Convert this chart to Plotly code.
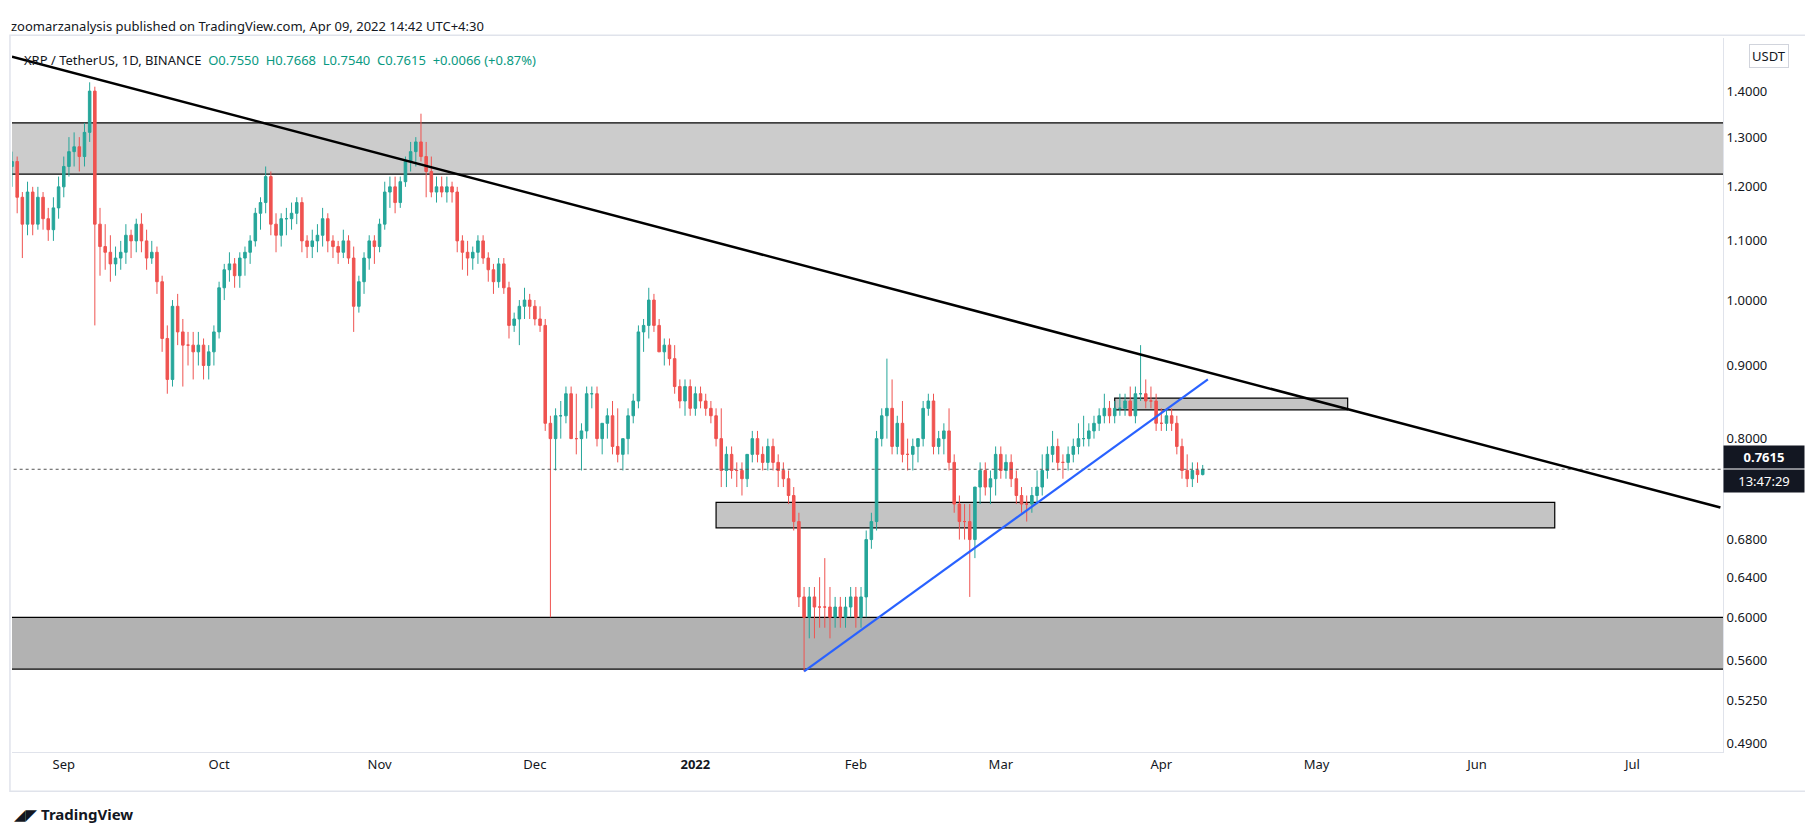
import plotly.graph_objects as go
import pandas as pd
import math

dates = pd.date_range("2021-08-22", "2022-04-09", freq="D")

closes = [
1.25,1.18,1.13,1.19,1.13,1.18,1.14,
1.12,1.16,1.20,1.24,1.27,1.28,1.26,
1.31,1.40,1.13,1.09,1.08,1.06,1.07,
1.08,1.11,1.10,1.13,1.10,1.07,1.08,
1.03,0.94,0.88,0.99,0.95,0.93,0.93,
0.92,0.93,0.90,0.92,0.95,1.02,1.05,
1.06,1.04,1.07,1.08,1.10,1.15,1.17,
1.22,1.13,1.11,1.14,1.14,1.15,1.17,
1.10,1.09,1.10,1.11,1.14,1.10,1.09,
1.08,1.10,1.07,0.99,1.03,1.07,1.10,
1.09,1.13,1.19,1.20,1.17,1.21,1.25,
1.27,1.29,1.26,1.23,1.19,1.20,1.19,
1.20,1.19,1.10,1.08,1.07,1.08,1.10,
1.07,1.05,1.03,1.06,1.02,0.96,0.97,
0.99,1.00,0.99,0.97,0.96,0.82,0.80,
0.83,0.83,0.86,0.80,0.80,0.81,0.86,
0.86,0.80,0.82,0.83,0.79,0.78,0.80,
0.83,0.85,0.95,0.96,1.00,0.96,0.92,
0.93,0.91,0.87,0.85,0.87,0.84,0.86,
0.85,0.84,0.83,0.80,0.76,0.78,0.76,
0.76,0.75,0.78,0.80,0.78,0.77,0.79,
0.77,0.76,0.75,0.73,0.70,0.62,0.60,
0.62,0.61,0.61,0.61,0.60,0.61,0.60,
0.61,0.62,0.60,0.62,0.68,0.70,0.80,
0.83,0.84,0.79,0.82,0.78,0.78,0.79,
0.80,0.84,0.85,0.79,0.80,0.81,0.77,
0.72,0.70,0.70,0.68,0.74,0.76,0.74,
0.75,0.78,0.76,0.77,0.75,0.73,0.72,
0.72,0.73,0.74,0.76,0.78,0.79,0.77,
0.77,0.78,0.79,0.80,0.80,0.81,0.82,
0.83,0.84,0.83,0.84,0.84,0.85,0.83,
0.86,0.86,0.85,0.85,0.82,0.82,0.83,
0.82,0.79,0.76,0.75,0.76,0.755,0.7615]

opens = [1.24] + closes[:-2] + [0.7550]

highs = [
1.27,1.26,1.19,1.21,1.20,1.20,1.19,
1.16,1.18,1.22,1.26,1.30,1.31,1.30,
1.33,1.42,1.41,1.16,1.13,1.11,1.09,
1.10,1.13,1.12,1.14,1.15,1.12,1.10,
1.09,1.04,0.96,1.00,1.01,0.97,0.95,
0.95,0.95,0.94,0.93,0.96,1.03,1.06,
1.08,1.07,1.08,1.09,1.11,1.16,1.18,
1.24,1.23,1.15,1.15,1.16,1.17,1.18,
1.18,1.11,1.12,1.13,1.16,1.15,1.11,
1.10,1.12,1.11,1.09,1.04,1.08,1.11,
1.11,1.14,1.21,1.22,1.22,1.22,1.26,
1.29,1.30,1.35,1.29,1.26,1.22,1.22,
1.22,1.21,1.20,1.11,1.10,1.09,1.11,
1.11,1.08,1.06,1.07,1.07,1.03,0.98,
1.00,1.02,1.01,1.00,0.99,0.97,0.83,
0.84,0.85,0.87,0.87,0.86,0.82,0.87,
0.87,0.87,0.82,0.84,0.85,0.84,0.80,
0.84,0.86,0.96,0.97,1.02,1.01,0.97,
0.94,0.94,0.93,0.88,0.88,0.88,0.87,
0.87,0.86,0.85,0.84,0.84,0.79,0.79,
0.77,0.77,0.78,0.81,0.81,0.79,0.80,
0.80,0.78,0.77,0.76,0.74,0.71,0.63,
0.63,0.63,0.64,0.66,0.63,0.62,0.62,
0.62,0.63,0.63,0.63,0.69,0.71,0.81,
0.84,0.91,0.88,0.83,0.85,0.80,0.80,
0.80,0.85,0.86,0.86,0.81,0.82,0.84,
0.78,0.73,0.72,0.72,0.74,0.77,0.77,
0.76,0.79,0.79,0.78,0.78,0.76,0.74,
0.73,0.74,0.76,0.78,0.79,0.81,0.80,
0.78,0.79,0.80,0.82,0.83,0.82,0.83,
0.84,0.86,0.85,0.85,0.86,0.86,0.87,
0.87,0.93,0.88,0.87,0.86,0.84,0.84,
0.84,0.83,0.80,0.78,0.77,0.77,0.7668]

lows = [
1.20,1.15,1.07,1.11,1.11,1.12,1.12,
1.10,1.10,1.14,1.18,1.22,1.24,1.23,
1.24,1.29,0.96,1.04,1.05,1.03,1.04,
1.05,1.06,1.07,1.08,1.08,1.05,1.06,
1.01,0.92,0.86,0.87,0.93,0.87,0.90,
0.88,0.90,0.88,0.88,0.90,0.94,1.00,
1.03,1.02,1.02,1.04,1.06,1.09,1.12,
1.15,1.11,1.08,1.09,1.11,1.12,1.13,
1.08,1.07,1.07,1.08,1.09,1.08,1.07,
1.06,1.07,1.06,0.95,0.98,1.01,1.05,
1.06,1.08,1.12,1.16,1.15,1.16,1.20,
1.23,1.24,1.25,1.18,1.18,1.17,1.18,
1.17,1.17,1.08,1.05,1.04,1.05,1.06,
1.06,1.03,1.01,1.02,1.01,0.94,0.95,
0.93,0.97,0.97,0.96,0.95,0.81,0.60,
0.76,0.80,0.82,0.80,0.78,0.76,0.80,
0.84,0.79,0.78,0.80,0.78,0.77,0.76,
0.78,0.82,0.84,0.92,0.94,0.95,0.92,
0.90,0.90,0.86,0.84,0.83,0.83,0.83,
0.84,0.83,0.82,0.79,0.74,0.74,0.75,
0.74,0.73,0.74,0.77,0.77,0.76,0.76,
0.76,0.74,0.74,0.72,0.69,0.61,0.55,
0.58,0.58,0.59,0.59,0.58,0.59,0.59,
0.59,0.60,0.59,0.59,0.60,0.67,0.69,
0.79,0.80,0.78,0.78,0.77,0.76,0.76,
0.77,0.79,0.83,0.78,0.78,0.78,0.76,
0.71,0.68,0.68,0.62,0.66,0.72,0.73,
0.72,0.73,0.75,0.75,0.74,0.72,0.71,
0.70,0.71,0.72,0.73,0.75,0.77,0.76,
0.75,0.76,0.77,0.78,0.79,0.79,0.80,
0.81,0.82,0.82,0.82,0.83,0.83,0.83,
0.82,0.85,0.84,0.84,0.81,0.81,0.81,
0.81,0.78,0.75,0.74,0.74,0.745,0.754]

# zones and lines (dates, prices)
top_zone = ["2021-08-20", "2022-07-20", 1.225, 1.33]
bottom_zone = ["2021-08-20", "2022-07-20", 0.552, 0.60]
mid_zone = ["2022-01-05", "2022-06-16", 0.693, 0.722]
small_zone = ["2022-03-23", "2022-05-07", 0.838, 0.854]
trend_x = ["2021-08-22", "2022-07-18"]
trend_y = [1.48, 0.716]
blue_x = ["2022-01-22", "2022-04-10"]
blue_y = [0.55, 0.88]
last_price = 0.7615

ytick_vals = [0.49, 0.525, 0.56, 0.60, 0.64, 0.68, 0.80, 0.90, 1.0, 1.1, 1.2, 1.3, 1.4]
xtick_vals = ["2021-09-01","2021-10-01","2021-11-01","2021-12-01","2022-01-01","2022-02-01",
              "2022-03-01","2022-04-01","2022-05-01","2022-06-01","2022-07-01"]
xtick_text = ["Sep","Oct","Nov","Dec","<b>2022</b>","Feb","Mar","Apr","May","Jun","Jul"]

fig = go.Figure()

def rect(z, fill):
    x0, x1, y0, y1 = z
    fig.add_shape(type="rect", xref="x", yref="y", x0=x0, x1=x1, y0=y0, y1=y1,
                  fillcolor=fill, line=dict(color="black", width=1.2), layer="below")

rect(top_zone, "#cccccc")
rect(bottom_zone, "#b2b2b2")
rect(mid_zone, "#c4c4c4")
rect(small_zone, "#c4c4c4")

fig.add_trace(go.Scatter(x=["2021-08-20", "2022-07-20"], y=[last_price, last_price], mode="lines",
                         line=dict(color="#555", width=1, dash="dot"), showlegend=False, hoverinfo="skip"))

fig.add_trace(go.Candlestick(x=dates, open=opens, high=highs, low=lows, close=closes,
                             increasing=dict(line=dict(color="#26a69a", width=1), fillcolor="#26a69a"),
                             decreasing=dict(line=dict(color="#ef5350", width=1), fillcolor="#ef5350"),
                             whiskerwidth=0, showlegend=False))

fig.add_trace(go.Scatter(x=trend_x, y=trend_y, mode="lines", line=dict(color="black", width=2.5),
                         showlegend=False, hoverinfo="skip"))
fig.add_trace(go.Scatter(x=blue_x, y=blue_y, mode="lines", line=dict(color="#2962ff", width=2.2),
                         showlegend=False, hoverinfo="skip"))

fig.update_layout(
    width=1813, height=829, margin=dict(l=4, r=98, t=30, b=85),
    paper_bgcolor="white", plot_bgcolor="white",
    font=dict(family="Noto Sans, DejaVu Sans", size=13, color="#131722"),
    xaxis=dict(range=["2021-08-22 00:00", "2022-07-18 12:00"], rangeslider=dict(visible=False),
               tickvals=xtick_vals, ticktext=xtick_text, showgrid=False, zeroline=False,
               showline=True, linecolor="#e0e3eb", ticks="", tickfont=dict(size=13, color="#131722")),
    yaxis=dict(type="log", range=[math.log10(0.483), math.log10(1.525)], side="right",
               tickvals=ytick_vals, tickformat=".4f", showgrid=False, zeroline=False,
               showline=True, linecolor="#e0e3eb", ticks="", tickfont=dict(size=13, color="#131722")),
)

# frame
fig.add_shape(type="rect", xref="paper", yref="paper", x0=-0.0012, x1=1.05, y0=-0.055, y1=1.004,
              line=dict(color="#e0e3eb", width=1.5), fillcolor="rgba(0,0,0,0)", layer="above")

# header texts
fig.add_annotation(xref="paper", yref="paper", x=-0.002, y=1.017, xanchor="left", yanchor="middle",
                   text="zoomarzanalysis published on TradingView.com, Apr 09, 2022 14:42 UTC+4:30",
                   showarrow=False, font=dict(size=13, color="#131722"))
fig.add_annotation(xref="paper", yref="paper", x=0.006, y=0.969, xanchor="left", yanchor="middle",
                   text="XRP / TetherUS, 1D, BINANCE  <span style='color:#089981'>O0.7550  H0.7668  L0.7540  C0.7615  +0.0066 (+0.87%)</span>",
                   showarrow=False, font=dict(size=13, color="#131722"))
fig.add_annotation(xref="paper", yref="paper", x=1.027, y=0.992, xanchor="center", yanchor="top",
                   text="USDT", showarrow=False, font=dict(size=13, color="#131722"),
                   bgcolor="white", bordercolor="#d1d4dc", borderwidth=1, borderpad=2)
fig.add_annotation(xref="paper", y=math.log10(last_price), x=1.0, xanchor="left", yanchor="bottom",
                   text="<b>0.7615</b>", showarrow=False, font=dict(size=13, color="white"),
                   bgcolor="#131722", borderpad=2, width=76, align="center")
fig.add_annotation(xref="paper", y=math.log10(last_price), x=1.0, xanchor="left", yanchor="top",
                   text="13:47:29", showarrow=False, font=dict(size=13, color="white"),
                   bgcolor="#131722", borderpad=2, width=76, align="center")
fig.add_annotation(xref="paper", yref="paper", x=0.0, y=-0.087, xanchor="left", yanchor="middle",
                   text="<b>◢◤ TradingView</b>", showarrow=False, font=dict(size=15, color="#131722"))

fig.write_html("out.html")
